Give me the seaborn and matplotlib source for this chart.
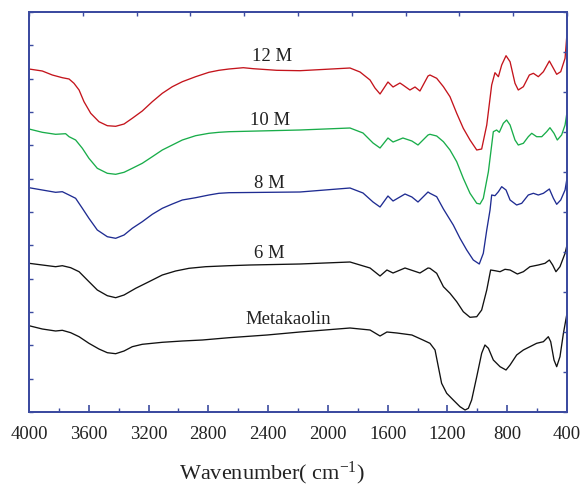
import numpy as np
import pandas as pd
import matplotlib
matplotlib.use("Agg")
import matplotlib.pyplot as plt
import seaborn as sns

# ---- data (wavenumber, relative transmittance in arbitrary units) ----
w_12 = [4000, 3911, 3844, 3777, 3732, 3699, 3665, 3632, 3587, 3532, 3476, 3420, 3364, 3309, 3242,
        3175, 3108, 3041, 2974, 2885, 2796, 2729, 2662, 2566, 2499, 2343, 2187,
        1852, 1785, 1718, 1685, 1651, 1598, 1564, 1518, 1498, 1451, 1417, 1384, 1330,
        1317, 1272, 1227, 1183, 1138, 1094, 1049, 1004, 971, 937, 904, 882, 859, 837, 808, 781,
        748, 726, 692, 652, 625, 592, 558, 518, 491, 469, 442, 413, 400]
t_12 = [343, 341, 337, 334.3, 333, 328.7, 322, 310.3, 298.7, 290.3, 286.3, 285.7, 288, 293.7, 301,
        310.3, 318.7, 325.3, 330.3, 335.3, 339.7, 341.7, 343, 344.3, 343.3, 341.7, 341.3,
        344, 340, 332, 324, 318, 330, 325, 329, 327, 322, 325, 321, 336,
        337, 333.7, 325.3, 315.3, 298.7, 283.7, 272, 262, 263, 287, 327, 339.3, 335.3, 347, 356.3, 350.3,
        328.7, 322, 325.3, 337, 338.7, 335.3, 340.3, 351, 343.7, 337.7, 340.3, 353.7, 378.7]

w_10 = [4000, 3911, 3822, 3755, 3732, 3688, 3643, 3599, 3543, 3476, 3420, 3364, 3309, 3242, 3175,
        3108, 3041, 2974, 2885, 2796, 2729, 2662, 2187,
        1852, 1765, 1698, 1651, 1598, 1564, 1498, 1438, 1397, 1330,
        1317, 1272, 1227, 1183, 1138, 1094, 1049, 1004, 982, 960, 926, 893, 871, 853, 826, 804, 781,
        748, 726, 692, 659, 636, 603, 569, 536, 514, 487, 465, 436, 413, 400]
t_10 = [283, 279.7, 277.7, 278.3, 275.3, 272, 263.7, 253.7, 243.7, 238.7, 237.7, 239.7, 243.7, 248.7, 255.3,
        262, 267, 272, 276.3, 278.7, 279.7, 280.3, 282,
        284, 279, 269, 264, 274, 270, 274, 271, 267, 277,
        277.7, 276, 270.3, 262, 250.3, 233.7, 218.7, 208.7, 208, 213.7, 240.3, 280.3, 282, 279.7, 288.7, 292, 287,
        272, 267, 268.7, 275.3, 278.7, 275.3, 275.3, 280.3, 284.3, 278.7, 272, 277, 287, 299.7]

w_8 = [4000, 3911, 3822, 3777, 3732, 3688, 3643, 3599, 3543, 3476, 3420, 3364, 3309, 3242, 3175,
       3108, 3041, 2974, 2885, 2796, 2729, 2662, 2187,
       1852, 1765, 1698, 1651, 1598, 1564, 1484, 1438, 1397, 1330,
       1317, 1272, 1227, 1161, 1116, 1071, 1027, 987, 960, 937, 915, 904, 882, 859, 837, 808, 781,
       737, 703, 659, 625, 592, 558, 518, 491, 469, 442, 413, 400]
t_8 = [224.3, 222, 219.7, 220.3, 217, 213.7, 203.7, 193.7, 182, 175.3, 173.7, 177, 183.7, 190.3, 197.7,
       203.7, 208, 212, 214.3, 217, 218.7, 219.3, 220,
       224, 219, 210, 205, 216, 211, 218, 215, 210, 220,
       218.7, 215.3, 203, 187, 173.7, 162, 152, 148, 158.7, 182, 202, 217, 216.3, 220.3, 225.3, 222, 212,
       207, 208.7, 217, 218.7, 217, 218.7, 223, 213.7, 207.7, 212, 222, 233.7]

w_6 = [4000, 3911, 3822, 3777, 3721, 3665, 3610, 3543, 3476, 3420, 3364, 3286, 3197, 3108, 3019,
       2929, 2818, 2662, 2521, 2187,
       1852, 1718, 1651, 1605, 1564, 1484, 1384, 1330,
       1317, 1272, 1227, 1183, 1138, 1094, 1049, 1004, 971, 937, 911, 882, 848, 815, 781, 732, 692,
       648, 592, 547, 518, 496, 474, 447, 413, 400]
t_6 = [148.7, 147, 145.3, 146.3, 144.3, 140.3, 132, 122, 116.3, 114.3, 117, 123.7, 130.3, 137, 141,
       143.7, 145.3, 146.3, 147, 148,
       150, 144, 136, 142, 139, 144, 139, 144,
       143.7, 138.7, 125.3, 118.7, 110.3, 100.3, 94.7, 95.3, 102, 122, 142, 141.3, 140.3, 142.7, 142, 138, 140.3,
       145.3, 147, 148.7, 152, 147, 140.3, 145.3, 158.7, 167]

w_mk = [4000, 3911, 3822, 3777, 3721, 3665, 3599, 3532, 3476, 3420, 3364, 3309, 3242, 3108, 2974,
        2840, 2662, 2407, 2187,
        1852, 1718, 1651, 1605, 1538, 1438, 1364,
        1317, 1283, 1261, 1239, 1205, 1161, 1116, 1082, 1060, 1038, 1004, 971, 949, 926, 893, 848,
        808, 781, 737, 692, 648, 603, 558, 525, 509, 487, 469, 447, 424, 400]
t_mk = [86.3, 83, 81, 81.7, 79.3, 75.3, 68.7, 63, 59.3, 58.3, 61, 65.3, 67.7, 69.7, 71,
        72, 74.3, 77, 80,
        84, 82, 76, 80, 79, 77, 72,
        68.7, 62, 45.3, 28.7, 18.7, 12, 5.3, 2, 3.7, 12, 35.3, 58.7, 67, 63.7, 52, 45.3,
        42, 47, 57, 62, 65.3, 68.7, 70.3, 75.3, 70.3, 52, 45.3, 55.3, 78.7, 98.7]

series_names = ["12 M", "10 M", "8 M", "6 M", "Metakaolin"]
series_w = [w_12, w_10, w_8, w_6, w_mk]
series_t = [t_12, t_10, t_8, t_6, t_mk]
series_colors = ["#c4141c", "#19ad4a", "#1f2c92", "#111111", "#111111"]
label_pos = [(2374, 355), (2387, 291), (2390, 228), (2390, 159), (2267, 93)]

x_ticks = [4000, 3600, 3200, 2800, 2400, 2000, 1600, 1200, 800, 400]

# ---- plotting ----
sns.set_style("ticks")
plt.rcParams["font.family"] = ["Liberation Serif", "DejaVu Serif"]
plt.rcParams["mathtext.fontset"] = "custom"
plt.rcParams["mathtext.rm"] = "Liberation Serif"
plt.rcParams["mathtext.it"] = "Liberation Serif:italic"

fig = plt.figure(figsize=(5.84, 4.88), dpi=100)
ax = fig.add_axes([29 / 584, 76 / 488, 538 / 584, 400 / 488])

for name, ws, ts, c in zip(series_names, series_w, series_t, series_colors):
    df = pd.DataFrame({"Wavenumber": ws, "T": ts})
    sns.lineplot(data=df, x="Wavenumber", y="T", color=c, lw=0.95,
                 estimator=None, sort=False, ax=ax)

for name, (lx, ly) in zip(series_names, label_pos):
    ax.text(lx, ly, name, ha="center", va="center", fontsize=13.5, color="#222222")

ax.set_xlim(4000, 400)
ax.set_ylim(0, 400)
ax.set_xticks(x_ticks)
ax.set_xticks(np.arange(3800, 400, -400), minor=True)
ax.set_yticks(np.linspace(0, 400, 13))
ax.set_yticklabels([])
ax.tick_params(axis="x", which="major", direction="in", length=5, width=1.2,
               color="#3c4ba0", labelsize=13.5, pad=10, labelcolor="#222222")
ax.tick_params(axis="x", which="minor", direction="in", length=3, width=1.0, color="#3c4ba0")
ax.tick_params(axis="y", which="major", direction="in", length=3, width=1.0, color="#3c4ba0")
ax.set_ylabel("")
ax.set_xlabel(r"Wavenumber( cm$^{\mathrm{-1}}$)", fontsize=16, color="#222222")
ax.xaxis.set_label_coords((272 - 29) / 538, -0.12)

for sp in ax.spines.values():
    sp.set_visible(True)
    sp.set_color("#3c4ba0")
    sp.set_linewidth(1.3)

# mirrored axes with their own tick spacing (top and right)
axt = ax.twiny()
axt.set_xlim(4000, 400)
axt.set_xticks(np.linspace(4000, 400, 11))
axt.set_xticklabels([])
axt.tick_params(axis="x", direction="in", length=3, width=1.0, color="#3c4ba0")
axr = ax.twinx()
axr.set_ylim(0, 400)
axr.set_yticks(np.linspace(0, 400, 11))
axr.set_yticklabels([])
axr.tick_params(axis="y", direction="in", length=3, width=1.0, color="#3c4ba0")
for a in (axt, axr):
    for sp in a.spines.values():
        sp.set_color("#3c4ba0")
        sp.set_linewidth(1.3)

fig.savefig("out.png", dpi=100)
